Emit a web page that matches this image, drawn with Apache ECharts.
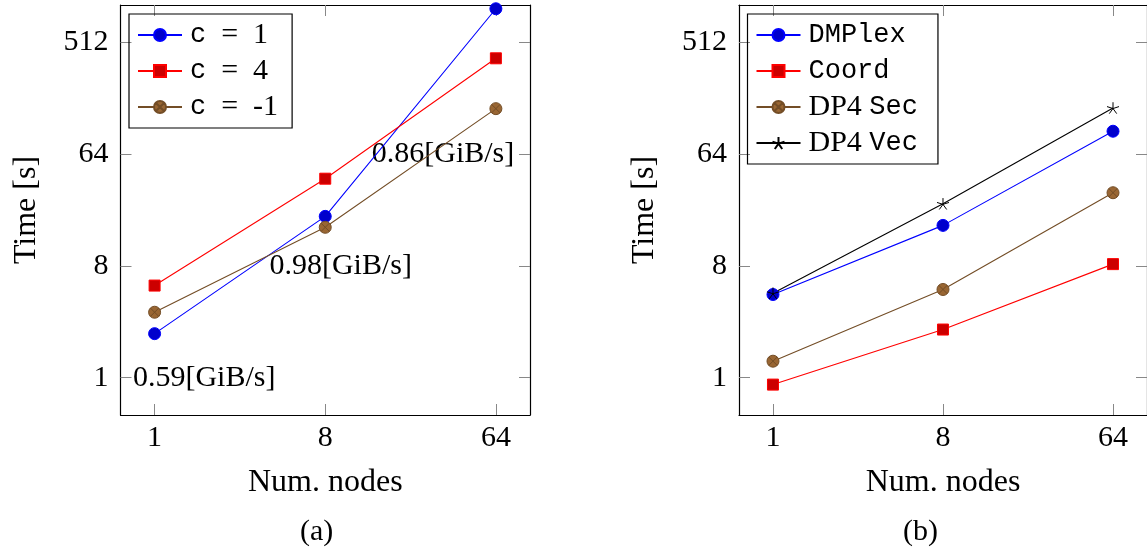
<!DOCTYPE html>
<html>
<head>
<meta charset="utf-8">
<script src="https://cdn.jsdelivr.net/npm/echarts@6/dist/echarts.min.js"></script>
<style>
html, body { margin: 0; padding: 0; background: #fff; }
#chart { width: 1147px; height: 549px; }
</style>
</head>
<body>
<div id="chart"></div>
<script>
// data
var nodes = [1, 8, 64];
var xTicks = [1, 8, 64];
var yTicks = [1, 8, 64, 512];

// (a)
var timeC1 = [2.27, 20.1, 955];
var timeC4 = [5.55, 40.5, 380];
var timeCm1 = [3.38, 16.4, 149];
var bwLabels = ['0.59[GiB/s]', '0.98[GiB/s]', '0.86[GiB/s]'];
var bwX = [1.83, 9.66, 33.6];
var bwY = [1, 8, 64];

// (b)
var timeDMPlex = [4.7, 17.0, 97.9];
var timeCoord = [0.88, 2.45, 8.27];
var timeDP4Sec = [1.36, 5.16, 31.2];
var timeDP4Vec = [4.82, 25.4, 151];

var namesA = ['c = 1', 'c = 4', 'c = -1'];
var namesB = ['DMPlex', 'Coord', 'DP4 Sec', 'DP4 Vec'];
var legendRich = {
    'c = 1': '{tt|c}  =  1',
    'c = 4': '{tt|c}  =  4',
    'c = -1': '{tt|c}  =  -1',
    'DMPlex': '{tt|DMPlex}',
    'Coord': '{tt|Coord}',
    'DP4 Sec': 'DP4 {tt|Sec}',
    'DP4 Vec': 'DP4 {tt|Vec}'
};

var SERIF = 'Liberation Serif';
var MONO = 'Liberation Mono';

var otimes = 'path://M10,0A10,10,0,1,1,-10,0A10,10,0,1,1,10,0ZM-7.07,-7.07L7.07,7.07M-7.07,7.07L7.07,-7.07';
var star = 'path://M0,0L0,-10M0,0L9.51,-3.09M0,0L5.88,8.09M0,0L-5.88,8.09M0,0L-9.51,-3.09';

function pairs(xs, ys) {
    var out = [];
    for (var i = 0; i < xs.length; i++) {
        out.push([xs[i], ys[i]]);
    }
    return out;
}

function xAxisDef(gridIndex, top) {
    return {
        type: 'log',
        logBase: 2,
        gridIndex: gridIndex,
        position: top ? 'top' : 'bottom',
        min: 0.66,
        max: 97,
        name: top ? '' : 'Num. nodes',
        nameLocation: 'middle',
        nameGap: 52,
        nameTextStyle: { fontFamily: SERIF, fontSize: 32, color: '#000' },
        axisLine: { show: true, onZero: false, lineStyle: { color: '#000', width: 1.2 } },
        axisTick: { show: true, inside: true, length: 11, customValues: xTicks, lineStyle: { color: '#888', width: 1 } },
        axisLabel: { show: !top, customValues: xTicks, margin: 8, fontFamily: SERIF, fontSize: 30, color: '#000' },
        splitLine: { show: false },
        minorTick: { show: false }
    };
}

function yAxisDef(gridIndex, right) {
    return {
        type: 'log',
        logBase: 2,
        gridIndex: gridIndex,
        position: right ? 'right' : 'left',
        min: 0.5,
        max: 1024,
        name: right ? '' : 'Time [s]',
        nameLocation: 'middle',
        nameGap: 78,
        nameTextStyle: { fontFamily: SERIF, fontSize: 32, color: '#000' },
        axisLine: { show: true, onZero: false, lineStyle: { color: '#000', width: 1.2 } },
        axisTick: { show: true, inside: true, length: 11, customValues: yTicks, lineStyle: { color: '#888', width: 1 } },
        axisLabel: { show: !right, customValues: yTicks, margin: 12, fontFamily: SERIF, fontSize: 30, color: '#000' },
        splitLine: { show: false },
        minorTick: { show: false }
    };
}

function lineSeries(name, axisIdx, ys, color, fill, symbol, size) {
    return {
        name: name,
        type: 'line',
        xAxisIndex: axisIdx,
        yAxisIndex: axisIdx,
        data: pairs(nodes, ys),
        symbol: symbol,
        symbolSize: size,
        symbolKeepAspect: true,
        showAllSymbol: true,
        lineStyle: { color: color, width: 1.1 },
        itemStyle: { color: fill, borderColor: color, borderWidth: 1 },
        emphasis: { disabled: true },
        animation: false
    };
}

function legendDef(names, left, padRight) {
    return {
        data: names,
        orient: 'vertical',
        left: left,
        top: 14,
        padding: [6, padRight, 6, 8],
        itemGap: 6,
        itemWidth: 44,
        itemHeight: 15,
        borderColor: '#000',
        borderWidth: 1.2,
        borderRadius: 0,
        selectedMode: false,
        formatter: function (n) { return legendRich[n]; },
        textStyle: {
            fontFamily: SERIF,
            fontSize: 30,
            lineHeight: 30,
            color: '#000',
            padding: [0, 0, 0, 3],
            rich: {
                tt: { fontFamily: MONO, fontSize: 27, color: '#000' }
            }
        }
    };
}

var bwData = [];
for (var i = 0; i < bwLabels.length; i++) {
    bwData.push({ name: bwLabels[i], value: [bwX[i], bwY[i]] });
}

var option = {
    backgroundColor: '#fff',
    animation: false,
    grid: [
        { left: 120.5, top: 5, width: 409.5, height: 410 },
        { left: 739, top: 5, width: 410, height: 410 }
    ],
    xAxis: [xAxisDef(0, false), xAxisDef(0, true), xAxisDef(1, false), xAxisDef(1, true)],
    yAxis: [yAxisDef(0, false), yAxisDef(0, true), yAxisDef(1, false), yAxisDef(1, true)],
    legend: [legendDef(namesA, 129, 14), legendDef(namesB, 747.5, 20)],
    series: [
        lineSeries('c = 1', 0, timeC1, '#0000ff', '#0000cc', 'circle', 12),
        lineSeries('c = 4', 0, timeC4, '#ff0000', '#cc0000', 'rect', 11),
        lineSeries('c = -1', 0, timeCm1, '#734d26', '#996633', otimes, 12),
        {
            type: 'scatter',
            xAxisIndex: 0,
            yAxisIndex: 0,
            data: bwData,
            symbolSize: 1,
            itemStyle: { color: 'rgba(0,0,0,0)', opacity: 1 },
            label: {
                show: true,
                position: 'inside',
                formatter: '{b}',
                fontFamily: SERIF,
                fontSize: 30,
                color: '#000',
                opacity: 1
            },
            emphasis: { disabled: true },
            silent: true
        },
        lineSeries('DMPlex', 2, timeDMPlex, '#0000ff', '#0000cc', 'circle', 12),
        lineSeries('Coord', 2, timeCoord, '#ff0000', '#cc0000', 'rect', 11),
        lineSeries('DP4 Sec', 2, timeDP4Sec, '#734d26', '#996633', otimes, 12),
        lineSeries('DP4 Vec', 2, timeDP4Vec, '#000000', 'transparent', star, 12)
    ],
    graphic: [
        { type: 'text', left: 300, top: 517, style: { text: '(a)', fontFamily: SERIF, fontSize: 30, fill: '#000', textAlign: 'center' } },
        { type: 'text', left: 903, top: 517, style: { text: '(b)', fontFamily: SERIF, fontSize: 30, fill: '#000' } }
    ]
};

var myChart = echarts.init(document.getElementById('chart'));
myChart.setOption(option);
</script>
</body>
</html>
